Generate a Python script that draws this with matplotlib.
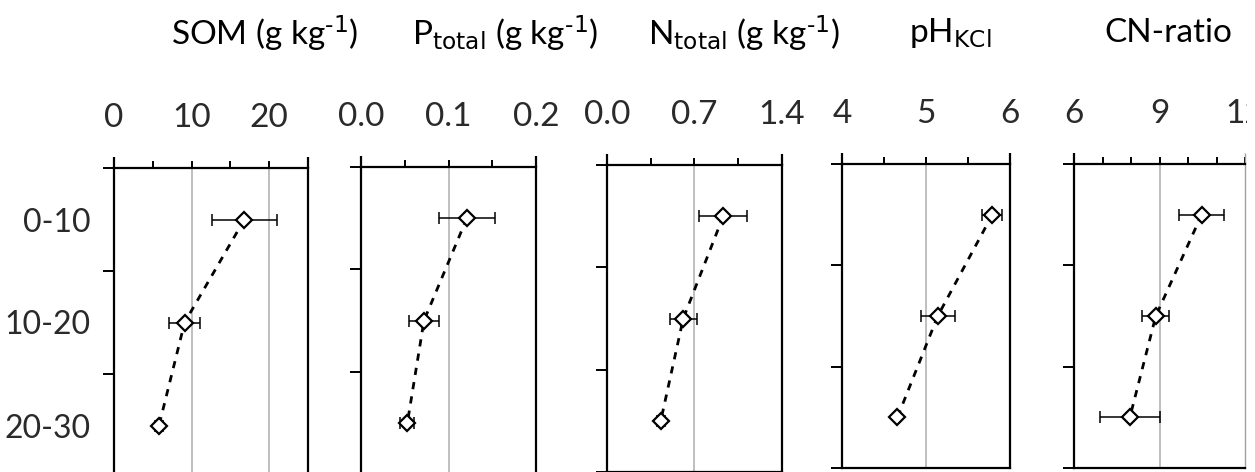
import numpy as np
import matplotlib
matplotlib.use('Agg')
import matplotlib.pyplot as plt
from matplotlib.ticker import MultipleLocator, FormatStrFormatter
from matplotlib.patches import Rectangle

''' soil depth profiles: mean +/- sd per depth layer'''

depths = ['0-10', '10-20', '20-30']

som_mean = [16.8, 9.1, 5.8]
som_err = [4.2, 2.0, 0.5]
p_mean = [0.121, 0.072, 0.053]
p_err = [0.032, 0.017, 0.008]
n_mean = [0.93, 0.61, 0.43]
n_err = [0.19, 0.11, 0.03]
ph_mean = [5.79, 5.14, 4.66]
ph_err = [0.12, 0.20, 0.03]
cn_mean = [10.48, 8.87, 7.96]
cn_err = [0.80, 0.48, 1.05]

titles = [r'SOM (g kg$^{\text{-1}}$)',
          r'P$_{\text{total}}$ (g kg$^{\text{-1}}$)',
          r'N$_{\text{total}}$ (g kg$^{\text{-1}}$)',
          r'pH$_{\text{KCl}}$',
          'CN-ratio']

W, H = 1255, 472
plt.rcParams['font.family'] = ['Lato', 'DejaVu Sans']
plt.rcParams['mathtext.default'] = 'regular'

fig = plt.figure(figsize=(W / 100, H / 100), dpi=100)


def px_axes(left, right, top, bottom):
    '''axes from pixel box'''
    return fig.add_axes([left / W, 1 - bottom / H, (right - left) / W, (bottom - top) / H])


# panel setup: (means, errs, xlim, major, minor, fmt, box, title x)
panels = [
    (som_mean, som_err, (0, 25), 10, 5, '%d', (114, 308, 168, 477), 265),
    (p_mean, p_err, (0, 0.2), 0.1, 0.05, '%.1f', (361, 536, 167, 474), 505),
    (n_mean, n_err, (0, 1.4), 0.7, 0.35, '%.1f', (607, 782, 165, 472), 744),
    (ph_mean, ph_err, (4, 6), 1, 0.5, '%d', (842, 1010, 164, 468), 950),
    (cn_mean, cn_err, (6, 12), 3, 1, '%d', (1074, 1245, 164, 468), 1168),
]

ypos = np.arange(len(depths)) + 0.5

for i, (mean, err, xlim, major, minor, fmt, box, tx) in enumerate(panels):
    ax = px_axes(*box)
    ax.set_xlim(*xlim)
    ax.set_ylim(3, 0)

    # light vertical gridlines at interior major ticks
    for g in np.arange(xlim[0] + major, xlim[1] - 1e-9, major):
        ax.axvline(g, color='#b4b4b4', lw=1.2, zorder=0)

    ax.plot(mean, ypos, color='black', lw=2.0, linestyle=(0, (2.6, 2.6)), zorder=2)
    ax.errorbar(mean, ypos, xerr=err, fmt='none', ecolor='black', elinewidth=1.1,
                capsize=4, capthick=1.1, zorder=3)
    ax.plot(mean, ypos, linestyle='none', marker='D', ms=8, mfc='white',
            mec='black', mew=1.6, zorder=4)

    ax.xaxis.tick_top()
    ax.xaxis.set_major_locator(MultipleLocator(major))
    ax.xaxis.set_minor_locator(MultipleLocator(minor))
    ax.xaxis.set_major_formatter(FormatStrFormatter(fmt))
    ax.tick_params(axis='x', which='both', direction='out', length=5, width=1.4,
                   pad=20, labelsize=24, labelcolor='#2a2a2a', top=True, bottom=False)

    ax.set_yticks([0, 1, 2, 3])
    ax.set_yticklabels([])
    ax.tick_params(axis='y', which='major', direction='out', length=8, width=1.4)
    if i == 0:
        ax.set_yticks(ypos, minor=True)
        ax.set_yticklabels(depths, minor=True)
        ax.tick_params(axis='y', which='minor', length=0, pad=17,
                       labelsize=23, labelcolor='#2a2a2a')

    side_color = ['black', 'black']
    for s in ax.spines.values():
        s.set_linewidth(1.6)
        s.set_color('black')
    if i == 4:
        ax.spines['right'].set_color('#a0a0a0')
        ax.spines['right'].set_linewidth(1.0)
        side_color[1] = '#a0a0a0'

    # side frame lines poke a little above the top axis
    for x, c in zip(xlim, side_color):
        ax.plot([x, x], [0, -0.11], color=c, lw=1.6 if c == 'black' else 1.0,
                clip_on=False, solid_capstyle='butt')

    fig.text(tx / W, 1 - 33 / H, titles[i], ha='center', va='center', fontsize=24)

# trim right margin
fig.add_artist(Rectangle((1247 / W, 0), 8 / W, 1, transform=fig.transFigure,
                         facecolor='white', edgecolor='none', zorder=10))

plt.savefig('out.png', dpi=100)
